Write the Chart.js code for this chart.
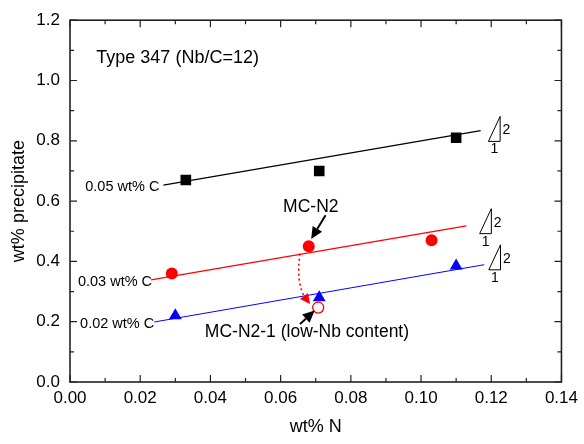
<!DOCTYPE html>
<html>
<head>
    <title>wt% precipitate vs wt% N</title>
    <script src="https://cdn.jsdelivr.net/npm/chart.js"></script>
    <style>
        body {
            margin: 0;
            background: #fff;
        }
        #wrap {
            width: 584px;
            height: 444px;
        }
    </style>
</head>
<body>

<div id="wrap">
    <canvas id="chart"></canvas>
</div>

<script>
    // axis ticks
    const xTickValues = [0, 0.02, 0.04, 0.06, 0.08, 0.10, 0.12, 0.14];
    const xTickLabels = ["0.00", "0.02", "0.04", "0.06", "0.08", "0.10", "0.12", "0.14"];
    const yTickValues = [0, 0.2, 0.4, 0.6, 0.8, 1.0, 1.2];
    const yTickLabels = ["0.0", "0.2", "0.4", "0.6", "0.8", "1.0", "1.2"];

    // measured points (wt% N, wt% precipitate)
    const n05 = [0.033, 0.071, 0.110];
    const p05 = [0.67, 0.70, 0.81];
    const n03 = [0.029, 0.068, 0.103];
    const p03 = [0.36, 0.45, 0.47];
    const n02 = [0.030, 0.071, 0.110];
    const p02 = [0.22, 0.28, 0.385];
    const nLowNb = [0.0707];
    const pLowNb = [0.247];

    // fitted lines, end points
    const fit05 = [[0.0266, 0.653], [0.117, 0.834]];
    const fit03 = [[0.0231, 0.339], [0.1129, 0.518]];
    const fit02 = [[0.024, 0.199], [0.118, 0.389]];

    const carbonLabels = ["0.05 wt% C", "0.03 wt% C", "0.02 wt% C"];
    const carbonColors = ["#000000", "#ff0000", "#0000ff"];

    const FONT = "'Liberation Sans', Arial, sans-serif";

    function pts(xs, ys) {
        return xs.map((v, i) => ({x: v, y: ys[i]}));
    }
    function linePts(seg) {
        return seg.map(p => ({x: p[0], y: p[1]}));
    }

    function arrow(ctx, x1, y1, x2, y2, color, width, headLen, headW) {
        const ang = Math.atan2(y2 - y1, x2 - x1);
        const bx = x2 - Math.cos(ang) * headLen;
        const by = y2 - Math.sin(ang) * headLen;
        ctx.strokeStyle = color;
        ctx.fillStyle = color;
        ctx.lineWidth = width;
        ctx.beginPath();
        ctx.moveTo(x1, y1);
        ctx.lineTo(bx, by);
        ctx.stroke();
        ctx.beginPath();
        ctx.moveTo(x2, y2);
        ctx.lineTo(bx + Math.sin(ang) * headW / 2, by - Math.cos(ang) * headW / 2);
        ctx.lineTo(bx - Math.sin(ang) * headW / 2, by + Math.cos(ang) * headW / 2);
        ctx.closePath();
        ctx.fill();
    }

    const notes = {
        id: 'notes',
        afterDatasetsDraw(chart) {
            const {ctx, chartArea: a, scales: {x, y}} = chart;
            const px = v => x.getPixelForValue(v);
            const py = v => y.getPixelForValue(v);
            ctx.save();

            // inward ticks on all four sides
            ctx.strokeStyle = '#222';
            ctx.lineWidth = 1.2;
            const xMinor = xTickValues.slice(1).map((v, i) => (v + xTickValues[i]) / 2);
            const yMinor = yTickValues.slice(1).map((v, i) => (v + yTickValues[i]) / 2);
            ctx.beginPath();
            xTickValues.forEach(v => {
                ctx.moveTo(px(v), a.bottom); ctx.lineTo(px(v), a.bottom - 7);
                ctx.moveTo(px(v), a.top); ctx.lineTo(px(v), a.top + 7);
            });
            xMinor.forEach(v => {
                ctx.moveTo(px(v), a.bottom); ctx.lineTo(px(v), a.bottom - 4);
                ctx.moveTo(px(v), a.top); ctx.lineTo(px(v), a.top + 4);
            });
            yTickValues.forEach(v => {
                ctx.moveTo(a.left, py(v)); ctx.lineTo(a.left + 7, py(v));
                ctx.moveTo(a.right, py(v)); ctx.lineTo(a.right - 7, py(v));
            });
            yMinor.forEach(v => {
                ctx.moveTo(a.left, py(v)); ctx.lineTo(a.left + 4, py(v));
                ctx.moveTo(a.right, py(v)); ctx.lineTo(a.right - 4, py(v));
            });
            ctx.stroke();

            // frame
            ctx.lineWidth = 1.6;
            ctx.strokeStyle = '#222';
            ctx.strokeRect(a.left, a.top, a.right - a.left, a.bottom - a.top);

            // texts
            ctx.fillStyle = '#000';
            ctx.textBaseline = 'middle';
            ctx.font = '18px ' + FONT;
            ctx.textAlign = 'left';
            ctx.fillText('Type 347 (Nb/C=12)', px(0.0075), py(1.074));

            ctx.font = '14.5px ' + FONT;
            ctx.textAlign = 'right';
            const starts = [fit05[0], fit03[0], fit02[0]];
            const gaps = [4, -1, 0];
            starts.forEach((s, i) => {
                ctx.fillText(carbonLabels[i], px(s[0]) - gaps[i], py(s[1]) + 2);
            });

            ctx.font = '17.5px ' + FONT;
            ctx.textAlign = 'center';
            ctx.fillText('MC-N2', px(0.0686), py(0.579));
            ctx.fillText('MC-N2-1 (low-Nb content)', px(0.0675), py(0.166));

            // black pointer arrows
            arrow(ctx, px(0.0728), py(0.553), px(0.0687), py(0.474), '#000', 2, 12, 11);
            arrow(ctx, px(0.0655), py(0.192), px(0.0697), py(0.237), '#000', 2, 12, 11);

            // red dotted path from MC-N2 to MC-N2-1
            ctx.strokeStyle = '#ff0000';
            ctx.lineWidth = 1.6;
            ctx.setLineDash([2, 3]);
            ctx.beginPath();
            ctx.moveTo(px(0.0655), py(0.426));
            ctx.quadraticCurveTo(px(0.0644), py(0.33), px(0.0668), py(0.283));
            ctx.stroke();
            ctx.setLineDash([]);
            arrow(ctx, px(0.0668), py(0.283), px(0.0684), py(0.259), '#ff0000', 0.1, 10, 10);

            // slope triangles (2 : 1)
            const slopeAnchors = [[0.1192, 0.798], [0.1167, 0.492], [0.1193, 0.372]];
            ctx.strokeStyle = '#000';
            ctx.fillStyle = '#000';
            ctx.lineWidth = 1;
            ctx.font = '14px ' + FONT;
            slopeAnchors.forEach(s => {
                const bx = px(s[0]), by = py(s[1]);
                ctx.beginPath();
                ctx.moveTo(bx, by);
                ctx.lineTo(bx + 11.7, by);
                ctx.lineTo(bx + 11.7, by - 25);
                ctx.closePath();
                ctx.stroke();
                ctx.textAlign = 'center';
                ctx.fillText('2', bx + 18, by - 11);
                ctx.fillText('1', bx + 6, by + 8);
            });

            ctx.restore();
        }
    };

    const ctx = document.getElementById("chart").getContext("2d");
    new Chart(ctx, {
        type: 'scatter',
        data: {
            datasets: [
                {data: pts(n05, p05), pointStyle: 'rect', pointRadius: 7.5,
                    backgroundColor: '#000', borderColor: '#000', borderWidth: 0},
                {data: pts(n03, p03), pointStyle: 'circle', pointRadius: 6,
                    backgroundColor: '#ff0000', borderColor: '#ff0000', borderWidth: 0},
                {data: pts(n02, p02), pointStyle: 'triangle', pointRadius: 7.4,
                    backgroundColor: '#0000ff', borderColor: '#0000ff', borderWidth: 0},
                {data: pts(nLowNb, pLowNb), pointStyle: 'circle', pointRadius: 5.5,
                    backgroundColor: '#fff', borderColor: '#ff0000', borderWidth: 1.3},
                {data: linePts(fit05), showLine: true, pointRadius: 0,
                    borderColor: carbonColors[0], borderWidth: 1.3},
                {data: linePts(fit03), showLine: true, pointRadius: 0,
                    borderColor: carbonColors[1], borderWidth: 1.3},
                {data: linePts(fit02), showLine: true, pointRadius: 0,
                    borderColor: carbonColors[2], borderWidth: 1}
            ]
        },
        options: {
            responsive: true,
            maintainAspectRatio: false,
            animation: false,
            events: [],
            layout: {
                padding: {top: 13, right: 18, left: 0, bottom: 0}
            },
            plugins: {
                legend: {display: false},
                tooltip: {enabled: false}
            },
            scales: {
                x: {
                    type: 'linear',
                    min: 0,
                    max: 0.14,
                    afterFit: s => { s.height = 62; },
                    afterBuildTicks: s => { s.ticks = xTickValues.map(v => ({value: v})); },
                    grid: {display: false, drawTicks: false},
                    border: {display: false},
                    ticks: {
                        padding: 6,
                        color: '#000',
                        font: {family: FONT, size: 17},
                        callback: (v, i) => xTickLabels[i]
                    },
                    title: {
                        display: true,
                        text: 'wt% N',
                        color: '#000',
                        font: {family: FONT, size: 18},
                        padding: {top: 0, bottom: 6}
                    }
                },
                y: {
                    type: 'linear',
                    min: 0,
                    max: 1.2,
                    afterFit: s => { s.width = 70; },
                    afterBuildTicks: s => { s.ticks = yTickValues.map(v => ({value: v})); },
                    grid: {display: false, drawTicks: false},
                    border: {display: false},
                    ticks: {
                        padding: 10,
                        color: '#000',
                        font: {family: FONT, size: 17},
                        callback: (v, i) => yTickLabels[i]
                    },
                    title: {
                        display: true,
                        text: 'wt% precipitate',
                        color: '#000',
                        font: {family: FONT, size: 18},
                        padding: {top: 8, bottom: 0}
                    }
                }
            }
        },
        plugins: [notes]
    });
</script>

</body>
</html>
